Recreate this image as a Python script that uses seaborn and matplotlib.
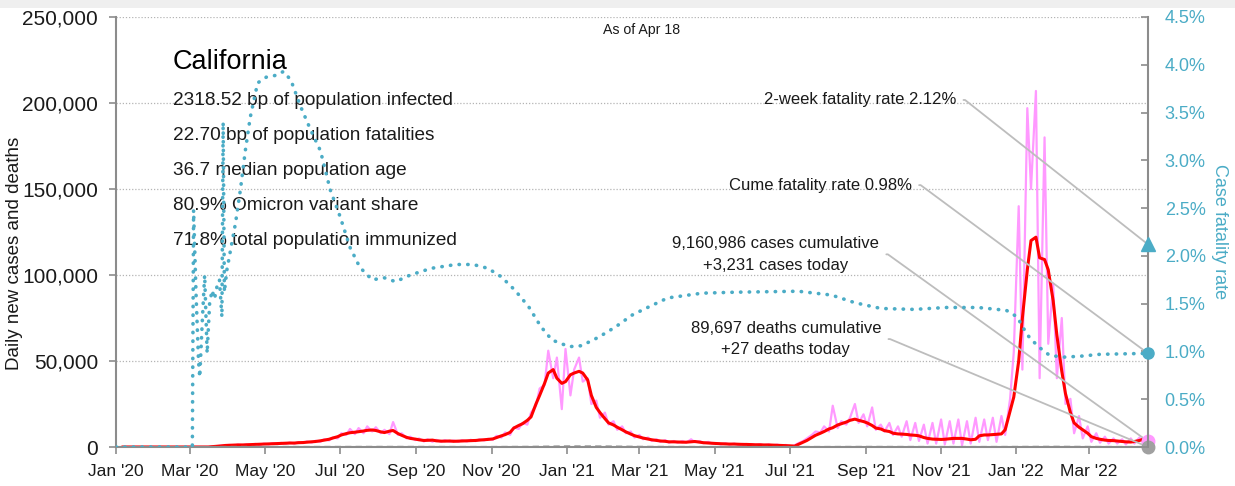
import matplotlib
matplotlib.use("Agg")
from matplotlib import pyplot as plt
import matplotlib.dates as mdates
from matplotlib.ticker import FuncFormatter, MultipleLocator
from matplotlib.patches import Rectangle
import pandas as pd
import seaborn as sns
import numpy as np

# report dates: Mondays and Thursdays, Jan 2020 - Apr 18 2022
mondays = pd.date_range("2020-01-06", "2022-04-18", freq="W-MON")
thursdays = pd.date_range("2020-01-09", "2022-04-18", freq="W-THU")
report_dates = mondays.union(thursdays)

# 7-day average of new cases, thousands
avg_cases_k = [
    0, 0, 0, 0, 0, 0, 0, 0,                                  # Jan 20
    0, 0, 0, 0, 0, 0, 0, 0,                                  # Feb
    0, 0, 0, 0, 0, 0.2, 0.4, 0.6, 0.9,                       # Mar
    1.0, 1.1, 1.2, 1.2, 1.3, 1.4, 1.5, 1.6, 1.7,             # Apr
    1.8, 1.9, 2.0, 2.1, 2.2, 2.3, 2.3, 2.5,                  # May
    2.6, 2.8, 3.0, 3.2, 3.6, 4.0, 4.5, 5.2, 6.0,             # Jun
    7.0, 7.8, 8.3, 8.6, 8.9, 9.3, 9.7, 9.9, 9.6,             # Jul
    8.8, 8.4, 9.2, 9.6, 7.8, 6.8, 5.6, 5.0, 4.6,             # Aug
    4.2, 3.8, 3.9, 4.0, 3.6, 3.4, 3.4, 3.5,                  # Sep
    3.3, 3.4, 3.5, 3.6, 3.7, 3.8, 4.0, 4.2, 4.4,             # Oct
    4.7, 5.5, 6.5, 7.2, 8.5, 11.0, 12.5, 13.5, 15.5,         # Nov
    17.5, 25, 30, 37, 43, 45, 40, 37, 38,                    # Dec
    42, 43, 44, 43, 39, 30, 23, 20,                          # Jan 21
    16.5, 14, 12.8, 11.5, 10, 8.8, 7.5, 6.6,                 # Feb
    5.8, 5.2, 4.6, 4.2, 3.8, 3.5, 3.3, 3.0, 3.0,             # Mar
    2.9, 2.8, 2.8, 3.0, 3.2, 2.8, 2.5, 2.3, 2.2,             # Apr
    2.0, 1.9, 1.8, 1.7, 1.7, 1.6, 1.5, 1.5, 1.4,             # May
    1.3, 1.3, 1.2, 1.2, 1.1, 1.0, 0.9, 0.8,                  # Jun
    0.7, 0.5, 1.5, 2.8, 3.8, 5.5, 6.8, 8.0, 9.0,             # Jul
    10.5, 11.2, 12.8, 13.5, 14.5, 15.5, 16.2, 15.5, 14.8,    # Aug
    14.0, 12.5, 11.0, 10.5, 9.5, 9.0, 8.0, 7.6, 7.5,         # Sep
    7.3, 7.0, 6.8, 6.5, 5.5, 5.0, 4.6, 4.5,                  # Oct
    4.4, 4.5, 4.8, 5.0, 5.0, 5.0, 4.6, 4.2, 4.5,             # Nov
    6.5, 7.0, 7.0, 7.2, 7.4, 7.6, 10, 21, 29,                # Dec
    50, 75, 103, 120, 122, 110, 109, 103, 85,                # Jan 22
    65, 44, 31, 20, 14, 11.5, 10, 8,                         # Feb
    6, 5, 4.5, 4.0, 3.8, 3.7, 3.5, 3.2, 3.0,                 # Mar
    2.9, 3.2, 3.8, 4.5, 5.0,                                 # Apr
]

# daily reported new cases, thousands
daily_cases_k = [
    0, 0, 0, 0, 0, 0, 0, 0,                                  # Jan 20
    0, 0, 0, 0, 0, 0, 0, 0,                                  # Feb
    0, 0, 0, 0, 0, 0.3, 0.5, 0.8, 1.0,                       # Mar
    1.2, 0.9, 1.4, 1.0, 1.5, 1.2, 1.8, 1.3, 2.0,             # Apr
    1.5, 2.2, 1.7, 2.4, 1.9, 2.6, 2.0, 2.8,                  # May
    2.3, 3.2, 2.6, 3.6, 3.0, 4.5, 3.8, 5.5, 5.0,             # Jun
    8.0, 7.0, 10.5, 7.5, 11.0, 8.0, 12.0, 9.0, 11.5,         # Jul
    8.0, 10.0, 7.5, 14.5, 7.0, 8.0, 5.0, 6.0, 4.0,           # Aug
    5.0, 3.2, 4.5, 3.0, 4.2, 3.0, 4.0, 3.0,                  # Sep
    3.8, 3.0, 4.0, 3.2, 4.2, 3.4, 4.5, 3.8, 4.8,             # Oct
    4.2, 6.5, 5.5, 8.5, 7.0, 11.5, 10.5, 14.0, 13.0,         # Nov
    20, 24, 34, 36, 56, 40, 52, 22, 57,                      # Dec
    30, 45, 52, 38, 40, 25, 27, 17,                          # Jan 21
    20, 13, 15, 10, 12, 8, 9, 5.5,                           # Feb
    7, 4.5, 5.5, 3.5, 4.5, 3, 4, 2.5, 3.5,                   # Mar
    2.5, 3.5, 2.5, 4.5, 2.8, 3.5, 2.2, 3, 2,                 # Apr
    2.3, 1.5, 2.2, 1.4, 2.0, 1.3, 1.8, 1.2, 1.7,             # May
    1.1, 1.6, 1.0, 1.5, 0.9, 1.4, 0.7, 1.2,                  # Jun
    0.3, 1.0, 2.2, 3.5, 5, 7, 9, 8.5, 12,                    # Jul
    9, 24, 11, 15, 13, 17, 25, 14, 19,                       # Aug
    12, 23, 10, 13, 9, 14, 7, 12, 6,                         # Sep
    15, 4, 14, 3.5, 13, 2, 14, 2,                            # Oct
    16, 1.5, 15, 2, 16, 1, 15, 2, 17,                        # Nov
    3, 16, 4, 17, 3, 18, 7, 28, 55,                          # Dec
    140, 45, 197, 150, 207, 40, 180, 60, 95,                 # Jan 22
    40, 75, 25, 28, 8, 18, 5, 12,                            # Feb
    3, 8, 2.5, 6, 2, 5, 2, 4.5, 1.5,                         # Mar
    5, 2, 5.5, 2.5, 3.2,                                     # Apr
]

# daily deaths, monthly readings
deaths_dates = list(pd.date_range("2020-01-01", "2022-04-01", freq="MS")) + [pd.Timestamp("2022-04-18")]
deaths_daily = [0, 0, 5, 50, 70, 60, 90, 130, 100, 60, 45, 150,
                480, 420, 160, 60, 35, 25, 25, 60, 110, 80, 45, 40,
                90, 190, 90, 35, 27]

# cumulative case fatality rate, %
cfr_dates = ["2020-01-01", "2020-03-03", "2020-03-04", "2020-03-06", "2020-03-08", "2020-03-09",
             "2020-03-11", "2020-03-13", "2020-03-15", "2020-03-17", "2020-03-19", "2020-03-21",
             "2020-03-23", "2020-03-25", "2020-03-27", "2020-03-28", "2020-03-29", "2020-03-31",
             "2020-04-03", "2020-04-07", "2020-04-11", "2020-04-15", "2020-04-19", "2020-04-25",
             "2020-05-02", "2020-05-10", "2020-05-16", "2020-05-22", "2020-05-26", "2020-05-30",
             "2020-06-07", "2020-06-15", "2020-06-23", "2020-07-01", "2020-07-09", "2020-07-17",
             "2020-07-27", "2020-08-06", "2020-08-15", "2020-08-27", "2020-09-13", "2020-10-03",
             "2020-10-17", "2020-10-29", "2020-11-09", "2020-11-20", "2020-12-01", "2020-12-11",
             "2020-12-20", "2021-01-03", "2021-01-13", "2021-01-27", "2021-02-10", "2021-02-23",
             "2021-03-06", "2021-03-24", "2021-04-21", "2021-05-18", "2021-07-08", "2021-08-04",
             "2021-08-23", "2021-09-13", "2021-10-10", "2021-11-05", "2021-12-01", "2021-12-24",
             "2022-01-02", "2022-01-06", "2022-01-12", "2022-01-20", "2022-01-28", "2022-02-08",
             "2022-02-22", "2022-03-10", "2022-04-18"]
cfr_pct = [0, 0, 2.48, 1.6, 0.9, 0.73,
           1.3, 1.8, 0.98, 1.5, 1.64, 1.55,
           1.68, 1.75, 1.36, 3.4, 1.62, 1.85,
           2.06, 2.34, 2.69, 3.1, 3.45, 3.81,
           3.87, 3.89, 3.93, 3.84, 3.7, 3.56,
           3.32, 3.1, 2.69, 2.41, 2.09, 1.88,
           1.75, 1.77, 1.73, 1.8, 1.87, 1.91,
           1.91, 1.87, 1.78, 1.64, 1.47, 1.26,
           1.12, 1.05, 1.06, 1.15, 1.26, 1.38,
           1.45, 1.56, 1.61, 1.62, 1.63, 1.59,
           1.51, 1.45, 1.44, 1.46, 1.46, 1.43,
           1.36, 1.26, 1.14, 1.04, 0.96, 0.94,
           0.95, 0.97, 0.98]

two_week_cfr = 2.12
cume_cfr = 0.98
cases_cum = 9160986
cases_today = 3231
deaths_cum = 89697
deaths_today = 27

stats = ["2318.52 bp of population infected",
         "22.70 bp of population fatalities",
         "36.7 median population age",
         "80.9% Omicron variant share",
         "71.8% total population immunized"]

PINK = "#ff99ff"
RED = "#ff0000"
TEAL = "#4bacc6"
GRAY = "#a6a6a6"
SPINE = "#8c8c8c"
INK = "#1a1a1a"

sns.set_theme(style="ticks")
plt.rcParams["font.family"] = ["Liberation Sans", "DejaVu Sans"]

ANN = 12

fig = plt.figure(figsize=(12.35, 4.86), dpi=100)
fig.patches.append(Rectangle((0, 1 - 8 / 486), 1, 8 / 486, transform=fig.transFigure,
                             facecolor="#efefef", edgecolor="none", zorder=-1))
ax = fig.add_axes([116 / 1235, 39 / 486, 1032 / 1235, 430 / 486])
ax2 = ax.twinx()

n = min(len(report_dates), len(avg_cases_k), len(daily_cases_k))
sns.lineplot(x=report_dates[:n], y=np.array(daily_cases_k[:n]) * 1000, ax=ax,
             color=PINK, linewidth=1.6)
sns.lineplot(x=report_dates[:n], y=np.array(avg_cases_k[:n]) * 1000, ax=ax,
             color=RED, linewidth=2.2)
sns.lineplot(x=deaths_dates, y=deaths_daily, ax=ax, color=GRAY, linewidth=1.5,
             linestyle=(0, (3, 2)))
sns.lineplot(x=pd.to_datetime(cfr_dates), y=np.array(cfr_pct) / 100, ax=ax2,
             color=TEAL, linewidth=2.6, linestyle=(0, (0.1, 2.3)),
             dash_capstyle="round")

last_day = report_dates[-1]
ax.plot([last_day], [cases_today], "o", color=PINK, ms=9, clip_on=False, zorder=6)
ax.plot([last_day], [deaths_today], "o", color="#a0a0a0", ms=9, clip_on=False, zorder=7)
ax2.plot([last_day], [two_week_cfr / 100], "^", color=TEAL, ms=10, clip_on=False, zorder=6)
ax2.plot([last_day], [cume_cfr / 100], "o", color=TEAL, ms=8, clip_on=False, zorder=6)

# axes
ax.set_xlim(pd.Timestamp("2020-01-01"), pd.Timestamp("2022-04-18"))
ax.set_ylim(0, 250000)
ax2.set_ylim(0, 0.045)
ax.xaxis.set_major_locator(mdates.MonthLocator(bymonth=[1, 3, 5, 7, 9, 11]))
ax.xaxis.set_major_formatter(mdates.DateFormatter("%b '%y"))
ax.yaxis.set_major_locator(MultipleLocator(50000))
ax.yaxis.set_major_formatter(FuncFormatter(lambda v, p: f"{v:,.0f}"))
ax2.yaxis.set_major_locator(MultipleLocator(0.005))
ax2.yaxis.set_major_formatter(FuncFormatter(lambda v, p: f"{v * 100:.1f}%"))

ax.yaxis.grid(True, linestyle=(0, (1, 1.5)), color="#b4b4b4", linewidth=0.9)
ax.xaxis.grid(False)
ax2.grid(False)

for s in ["top", "right"]:
    ax.spines[s].set_visible(False)
for s in ["top", "left", "bottom"]:
    ax2.spines[s].set_visible(False)
for sp in [ax.spines["left"], ax.spines["bottom"], ax2.spines["right"]]:
    sp.set_color(SPINE)
    sp.set_linewidth(1.5)

ax.tick_params(axis="y", direction="out", length=5, width=1.2, color=SPINE,
               pad=8, labelsize=15, labelcolor=INK)
ax.tick_params(axis="x", direction="out", length=5, width=1.2, color=SPINE,
               pad=7, labelsize=12.5, labelcolor=INK)
ax2.tick_params(axis="y", direction="in", length=5, width=1.2, color=SPINE,
                pad=12, labelsize=13, labelcolor=TEAL)

ax.set_xlabel("")
ax.set_ylabel("Daily new cases and deaths", fontsize=13.5, color=INK)
ax.yaxis.set_label_coords(-0.09, 0.45)
ax2.set_ylabel("Case fatality rate", fontsize=13, color=TEAL, rotation=270,
               va="bottom")
ax2.yaxis.set_label_coords(1.061, 0.5)

# texts
ax.text(0.509, 0.985, "As of Apr 18", transform=ax.transAxes, ha="center", va="top",
        fontsize=10.2, color=INK)
ax.text(0.055, 0.895, "California", transform=ax.transAxes, ha="left", va="center",
        fontsize=19.5, color="black")
for i, line in enumerate(stats):
    ax.text(0.055, 0.805 - i * 0.081, line, transform=ax.transAxes, ha="left",
            va="center", fontsize=13.7, color=INK)

line_kw = dict(arrowstyle="-", color="#bdbdbd", lw=1.3, shrinkA=3, shrinkB=0,
               relpos=(1, 0.5),
               connectionstyle="arc,angleA=0,angleB=0,armA=9,armB=0,rad=0")
ax2.annotate(f"2-week fatality rate {two_week_cfr:.2f}%",
             xy=(last_day, two_week_cfr / 100), xytext=(0.814, 0.807),
             textcoords="axes fraction", ha="right", va="center", fontsize=ANN,
             color=INK, annotation_clip=False, arrowprops=line_kw)
ax2.annotate(f"Cume fatality rate {cume_cfr:.2f}%",
             xy=(last_day, cume_cfr / 100), xytext=(0.771, 0.609),
             textcoords="axes fraction", ha="right", va="center", fontsize=ANN,
             color=INK, annotation_clip=False, arrowprops=line_kw)
ax.annotate(f"{cases_cum:,} cases cumulative\n+{cases_today:,} cases today",
            xy=(last_day, cases_today), xytext=(0.639, 0.448),
            textcoords="axes fraction", ha="center", va="center", fontsize=ANN,
            linespacing=1.55, color=INK, annotation_clip=False, arrowprops=line_kw)
ax.annotate(f"{deaths_cum:,} deaths cumulative\n+{deaths_today} deaths today",
            xy=(last_day, deaths_today), xytext=(0.649, 0.251),
            textcoords="axes fraction", ha="center", va="center", fontsize=ANN,
            linespacing=1.55, color=INK, annotation_clip=False, arrowprops=line_kw)

fig.savefig("out.png", dpi=100)
